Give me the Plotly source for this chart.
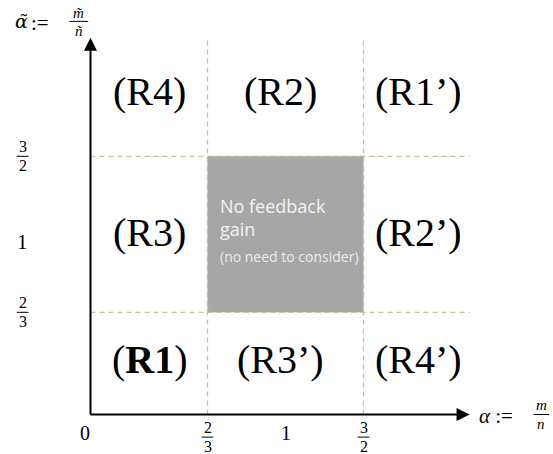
import numpy as np
import plotly.graph_objects as go

# ---- data ----
boundaries = [2/3, 3/2]                     # region borders on both axes
x_tick_vals = [0, 2/3, 1, 3/2]
x_tick_num = ["0", "2", "1", "3"]           # numerators (or whole label)
x_tick_den = [None, "3", None, "2"]
y_tick_vals = [2/3, 1, 3/2]
y_tick_num = ["2", "1", "3"]
y_tick_den = ["3", None, "2"]
region_labels = ["(R4)", "(R2)", "(R1’)",
                 "(R3)", None, "(R2’)",
                 "(<b>R1</b>)", "(R3’)", "(R4’)"]
region_col = [0, 1, 2, 0, 1, 2, 0, 1, 2]
region_row = [2, 2, 2, 1, 1, 1, 0, 0, 0]
box_title = "No feedback<br>gain"
box_note = "(no need to consider)"

# ---- schematic (non-linear) scale ----
X_ANCH_V = [0, 2/3, 1, 3/2]
X_ANCH_P = [0, 1.5, 2.5, 3.5]
Y_ANCH_V = [0, 2/3, 1, 3/2]
Y_ANCH_P = [0, 1.31, 2.31, 3.31]
def xp(v): return float(np.interp(v, X_ANCH_V, X_ANCH_P))
def yp(v): return float(np.interp(v, Y_ANCH_V, Y_ANCH_P))

X_END = 4.86
Y_END = 4.83
col_centers = [0.76, 2.44, 4.2]
row_centers = [yp(0) + 0.70, yp(1) + 0.02, yp(3/2) + 0.83]

SERIF = "Liberation Serif, DejaVu Serif, serif"
SANS = "Open Sans, Noto Sans, sans-serif"
TAN = "#cbc199"

fig = go.Figure()
fig.add_trace(go.Scatter(x=[0], y=[0], mode="markers", marker=dict(opacity=0), hoverinfo="skip", showlegend=False))

shapes = []
# dashed grid lines
for b in boundaries:
    shapes.append(dict(type="line", x0=xp(b), x1=xp(b), y0=0, y1=Y_END,
                       line=dict(color=TAN, width=1.3, dash="5px,4px"), layer="below"))
    shapes.append(dict(type="line", x0=0, x1=X_END, y0=yp(b), y1=yp(b),
                       line=dict(color=TAN, width=1.3, dash="5px,4px"), layer="below"))
# grey box
shapes.append(dict(type="rect", x0=xp(boundaries[0]), x1=xp(boundaries[1]),
                   y0=yp(boundaries[0]), y1=yp(boundaries[1]),
                   fillcolor="#a6a6a6", line=dict(color=TAN, width=1.3, dash="5px,4px"), layer="above"))

ann = []
# axes arrows
ann.append(dict(x=X_END, y=0, ax=-0.02, ay=0, xref="x", yref="y", axref="x", ayref="y",
                text="", showarrow=True, arrowhead=2, arrowsize=1.3, arrowwidth=2, arrowcolor="black", standoff=0))
ann.append(dict(x=0, y=Y_END, ax=0, ay=-0.02, xref="x", yref="y", axref="x", ayref="y",
                text="", showarrow=True, arrowhead=2, arrowsize=1.3, arrowwidth=2, arrowcolor="black", standoff=0))

def txt(x, y, s, size, xanchor="center", family=SERIF, color="black"):
    ann.append(dict(x=x, y=y, text=s, showarrow=False, xanchor=xanchor, yanchor="middle",
                    font=dict(family=family, size=size, color=color)))

def frac(x, y, num, den, size, dy=0.12, dyd=None, barw=0.075, italic=False):
    fmt = (lambda s: f"<i>{s}</i>") if italic else (lambda s: s)
    txt(x, y + dy, fmt(num), size)
    txt(x, y - (dyd if dyd is not None else dy), fmt(den), size)
    shapes.append(dict(type="line", x0=x - barw, x1=x + barw, y0=y, y1=y,
                       line=dict(color="black", width=1)))

# x ticks
for v, n, d in zip(x_tick_vals, x_tick_num, x_tick_den):
    x = xp(v) - (0.07 if v == 0 else 0)
    if d is None:
        txt(x, -0.24, n, 20)
    else:
        frac(x, -0.29, n, d, 16)
# y ticks
for v, n, d in zip(y_tick_vals, y_tick_num, y_tick_den):
    yy = yp(v)
    if d is None:
        txt(-0.87, yy - 0.1, n, 21)
    else:
        frac(-0.87, yy, n, d, 16)

# axis titles
txt(X_END + 0.1, -0.02, "<i>α</i> :=", 21, xanchor="left")
frac(X_END + 0.92, 0.0, "m", "n", 15, dy=0.12, barw=0.1, italic=True)
txt(-1.0, Y_END + 0.21, "<i>α̃</i>", 19, xanchor="left", family="DejaVu Serif, serif")
txt(-0.79, Y_END + 0.19, ":=", 21, xanchor="left")
frac(-0.15, Y_END + 0.21, "m̃", "ñ", 15, dy=0.11, dyd=0.12, barw=0.12, italic=True)

# region labels
for lab, c, r in zip(region_labels, region_col, region_row):
    if lab is None:
        continue
    txt(col_centers[c], row_centers[r], lab, 40)

# box texts
ann.append(dict(x=xp(2/3) + 0.13, y=2.53, text=box_title, showarrow=False, xanchor="left", yanchor="middle",
                align="left", font=dict(family=SANS, size=18, color="#f4f4f4")))
txt(xp(2/3) + 0.13, 2.03, box_note, 14, xanchor="left", family=SANS, color="#ececec")

fig.update_layout(
    width=553, height=454, margin=dict(l=0, r=0, t=0, b=0),
    paper_bgcolor="white", plot_bgcolor="white", showlegend=False,
    xaxis=dict(range=[-90.5/78, 462.5/78], visible=False, fixedrange=True),
    yaxis=dict(range=[-39.5/78, 414.5/78], visible=False, fixedrange=True),
    shapes=shapes, annotations=ann,
)
fig.write_html("out.html", config={"displayModeBar": False},
               post_script="document.body.style.margin='0';document.body.style.overflow='hidden';")
